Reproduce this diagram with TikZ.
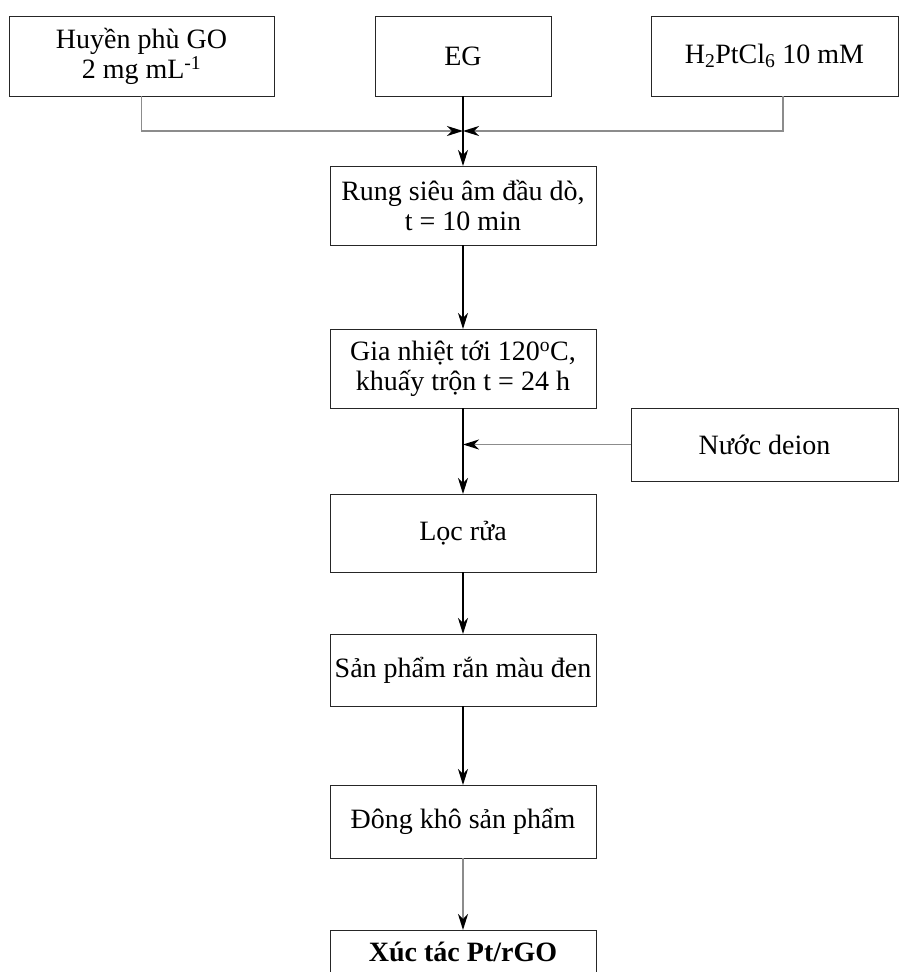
\documentclass[tikz,border=0pt]{standalone}
\usepackage{fontspec}
\setmainfont{Liberation Serif}
\usetikzlibrary{arrows.meta}
\tikzset{
  procbox/.style={draw=black!85, line width=1pt, inner sep=0pt, outer sep=0pt,
    align=center, minimum width=266pt, minimum height=78pt},
  blackline/.style={draw=black, line width=1.2pt},
  greyline/.style={draw=black!45, line width=1.8pt},
  arr/.style={-{Stealth[length=16pt,width=10pt,inset=5pt,color=black]}}
}
\begin{document}
\begin{tikzpicture}[x=1pt,y=-1pt, font=\fontsize{28}{30}\selectfont]
\useasboundingbox (0,0) rectangle (902,972);
\node[procbox, minimum width=265pt, minimum height=80pt] (go) at (141.5,56) {Huyền phù GO\\2 mg mL\textsuperscript{-1}};
\node[procbox, minimum width=176pt, minimum height=80pt] (eg) at (463,56) {EG};
\node[procbox, minimum width=247pt, minimum height=80pt] (pt) at (774.5,56) {H\textsubscript{2}PtCl\textsubscript{6} 10 mM};
\coordinate (j) at (463,131);
\node[procbox, minimum height=79pt] (rung) at (463,205.5) {Rung siêu âm đầu dò,\\t = 10 min};
\node[procbox, minimum height=79pt] (gia) at (463,368.5) {Gia nhiệt tới 120\textsuperscript{o}C,\\khuấy trộn t = 24 h};
\node[procbox, minimum width=267pt, minimum height=73pt] (nuoc) at (764.5,444.5) {Nước deion};
\node[procbox] (loc) at (463,533) {Lọc rửa};
\node[procbox, minimum height=72pt] (san) at (463,670) {Sản phẩm rắn màu đen};
\node[procbox, minimum height=73pt] (dong) at (463,821.5) {Đông khô sản phẩm};
\node[procbox, anchor=north, minimum height=0pt, inner ysep=12pt, text height=19pt, text depth=40pt] (xuc) at (463,930) {\bfseries Xúc tác Pt/rGO};
\draw[greyline, arr] (go.south) |- (j);
\draw[greyline, arr] ([xshift=8.5pt]pt.south) |- (j);
\draw[blackline, arr] (eg.south) -- (rung.north);
\draw[blackline, arr] (rung.south) -- (gia.north);
\draw[blackline, arr] (gia.south) -- (loc.north);
\draw[greyline, arr] (nuoc.west) -- (nuoc.west -| gia.south);
\draw[blackline, arr] (loc.south) -- (san.north);
\draw[blackline, arr] (san.south) -- (dong.north);
\draw[greyline, arr] (dong.south) -- (xuc.north);
\end{tikzpicture}
\end{document}
